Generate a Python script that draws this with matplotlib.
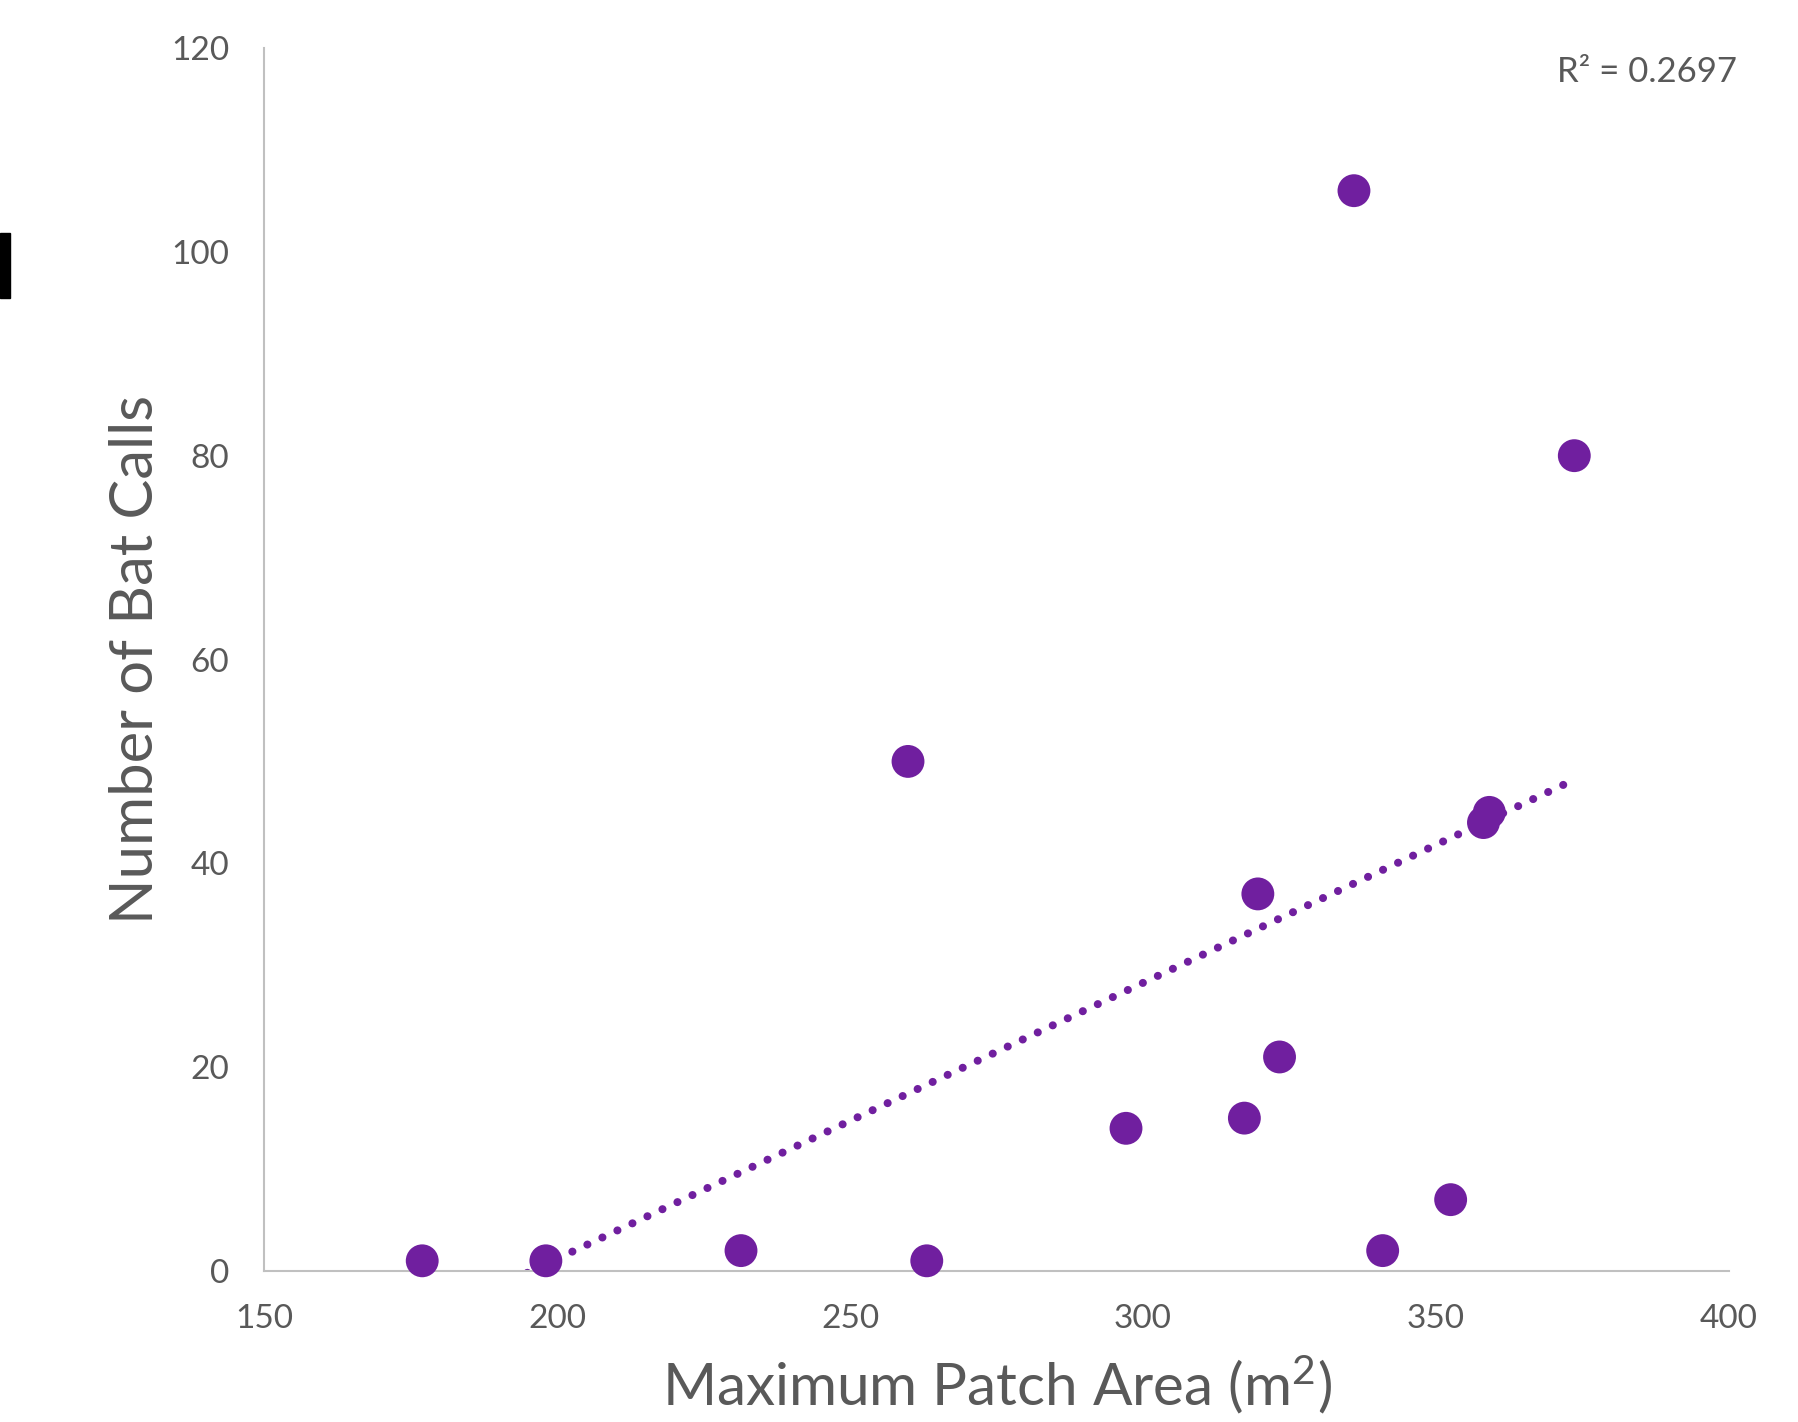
import numpy as np
import matplotlib
matplotlib.use("Agg")
import matplotlib.pyplot as plt
from matplotlib.patches import Rectangle

# data
patch_area = [177.0, 198.1, 231.4, 259.9, 263.1, 297.1, 317.3, 319.6, 323.3,
              336.0, 340.9, 352.5, 358.1, 359.1, 373.6]
bat_calls = [1, 1, 2, 50, 1, 14, 15, 37, 21, 106, 2, 7, 44, 45, 80]
x_ticks = [150, 200, 250, 300, 350, 400]
y_ticks = [0, 20, 40, 60, 80, 100, 120]
r2_label = "R² = 0.2697"

purple = "#701F9F"
gray_text = "#595959"

plt.rcParams['font.family'] = ['Lato', 'DejaVu Sans']
plt.rcParams['mathtext.fontset'] = 'custom'
plt.rcParams['mathtext.rm'] = 'Lato'
plt.rcParams['mathtext.it'] = 'Lato'

fig = plt.figure(figsize=(17.98, 14.22), dpi=100)
W, H = 1798, 1422
ax = fig.add_axes([264 / W, 1 - 1271 / H, (1729 - 264) / W, (1271 - 48) / H])

ax.set_xlim(150, 400)
ax.set_ylim(0, 120)

x = np.array(patch_area)
y = np.array(bat_calls)
m, b = np.polyfit(x, y, 1)
xl = np.array([x.min(), x.max()])
ax.plot(xl, m * xl + b, color=purple, lw=5.8, linestyle=(0, (0.01, 2.05)),
        dash_capstyle='round', zorder=2)

ax.scatter(x, y, s=560, color=purple, edgecolors='none', zorder=3, clip_on=False)

ax.set_xticks(x_ticks)
ax.set_yticks(y_ticks)
ax.tick_params(length=0, labelsize=24, labelcolor=gray_text)
ax.tick_params(axis='x', pad=24)
ax.tick_params(axis='y', pad=25)

for s in ['top', 'right']:
    ax.spines[s].set_visible(False)
for s in ['left', 'bottom']:
    ax.spines[s].set_color('#C0C0C0')
    ax.spines[s].set_linewidth(1.5)

ax.set_xlabel("Maximum Patch Area (m$^2$)", fontsize=42, color=gray_text, labelpad=14)
ax.set_ylabel("Number of Bat Calls", fontsize=43, color=gray_text, labelpad=6)

fig.text(1737 / W, 1 - 72 / H, r2_label, ha='right', va='center', fontsize=25,
         color=gray_text)

# cropping artifact on left edge
fig.patches.append(Rectangle((0, 1 - 298 / H), 10 / W, 65 / H, transform=fig.transFigure,
                             color='black', zorder=5))

fig.savefig("out.png", dpi=100)
